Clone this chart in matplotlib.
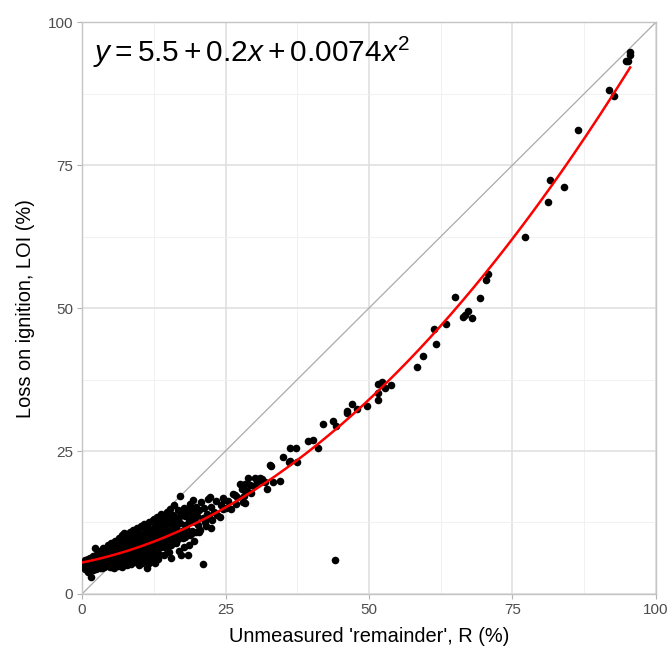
import matplotlib
matplotlib.use('Agg')
import numpy as np
import matplotlib.pyplot as plt

plt.rcParams['font.family'] = ['Liberation Sans', 'DejaVu Sans']
plt.rcParams['mathtext.fontset'] = 'custom'
plt.rcParams['mathtext.rm'] = 'Liberation Sans'
plt.rcParams['mathtext.it'] = 'Liberation Sans:italic'

# remainder R (%) and LOI (%)
R = [0.3, 0.4, 0.5, 0.6, 0.8, 0.9, 1.0, 1.1, 1.2, 1.3, 1.4, 1.5, 1.6, 1.7, 1.8, 1.9, 2.0, 2.2, 0.2, 1.0,
     2.1, 2.3, 2.4, 2.5, 2.6, 2.7, 2.8, 2.9, 3.0, 3.1, 3.2, 3.3, 3.4, 3.5, 3.6, 3.7, 3.8, 3.9, 4.0, 2.5, 3.0, 3.5, 3.9, 2.8, 3.3,
     4.1, 4.2, 4.3, 4.4, 4.5, 4.6, 4.7, 4.8, 4.9, 5.0, 5.1, 5.2, 5.3, 5.4, 5.5, 5.6, 5.7, 5.8, 5.9, 6.0, 4.4, 4.8, 5.2, 5.6, 4.0, 5.0, 5.5, 6.0,
     6.1, 6.2, 6.3, 6.4, 6.5, 6.6, 6.7, 6.8, 6.9, 7.0, 7.1, 7.2, 7.3, 7.4, 7.5, 7.6, 7.7, 7.8, 7.9, 8.0, 6.3, 6.7, 7.1, 7.5, 7.9, 6.5, 7.0, 7.4, 7.8, 6.9,
     8.1, 8.2, 8.3, 8.4, 8.5, 8.6, 8.7, 8.8, 8.9, 9.0, 9.1, 9.2, 9.3, 9.4, 9.5, 9.6, 9.7, 9.8, 9.9, 10.0, 8.3, 8.7, 9.1, 9.5, 9.9, 8.5, 8.9, 9.3, 9.7, 8.1, 9.0, 9.6,
     10.1, 10.2, 10.3, 10.4, 10.5, 10.6, 10.7, 10.8, 10.9, 11.0, 11.1, 11.2, 11.3, 11.4, 11.5, 11.6, 11.7, 11.8, 11.9, 12.0, 10.2, 10.6, 11.0, 11.4, 11.8, 10.4, 10.9, 11.3, 11.7, 12.0, 10.0, 11.6,
     12.1, 12.2, 12.3, 12.4, 12.5, 12.6, 12.7, 12.8, 12.9, 13.0, 13.1, 13.2, 13.3, 13.4, 13.5, 13.6, 13.7, 13.8, 13.9, 14.0, 12.3, 12.7, 13.1, 13.5, 13.9, 12.5, 12.9, 13.3, 13.7, 12.2,
     14.1, 14.2, 14.3, 14.4, 14.5, 14.6, 14.7, 14.8, 14.9, 15.0, 15.1, 15.2, 15.3, 15.4, 15.5, 15.6, 15.7, 15.8, 15.9, 16.0, 14.5, 15.0, 15.5, 16.0,
     16.1, 16.3, 16.4, 16.5, 16.7, 16.8, 17.0, 17.1, 17.3, 17.4, 17.5, 17.6, 17.8, 17.9, 18.0, 16.6, 17.2, 17.7, 18.0, 16.9,
     18.2, 18.3, 18.5, 18.6, 18.8, 18.9, 19.0, 19.2, 19.4, 19.5, 19.7, 19.8, 20.0, 18.7, 19.3, 19.9,
     20.2, 20.4, 20.6, 20.8, 21.0, 21.0, 21.3, 21.5, 21.7, 22.0, 22.2, 22.5, 22.7, 23.0, 23.3, 23.6, 24.0, 24.2, 24.5, 24.8, 25.0, 22.4,
     2.0, 2.6, 3.2, 3.8, 4.4, 5.0, 5.6, 6.2, 6.8, 7.4, 8.0, 8.6, 9.2, 9.8, 10.4, 11.0, 11.6, 12.2, 12.8, 13.4,
     14.0, 14.6, 15.2, 15.8, 16.4, 17.0, 17.6, 18.2, 18.8, 19.4, 1.2, 2.4, 3.6, 4.8, 6.0, 7.2, 8.4, 9.6, 10.8, 12.0,
     13.2, 14.4, 15.6, 16.8, 18.0, 19.2, 20.4, 21.6, 0.6, 0.9,
     22.3, 24.6, 26.7, 27.5, 28.4, 29.0, 31.0, 31.6, 25.5, 26.0, 26.3, 26.8, 27.0, 27.8, 28.2, 28.4, 28.8, 29.2, 29.5, 30.0, 30.5,
     31.3, 31.8, 32.2, 32.8, 32.9, 33.3, 34.5, 35.1, 36.1, 36.2, 37.4, 28.0, 30.2,
     36.2, 37.3, 39.4, 40.3, 41.2, 42.0, 43.8, 44.3, 46.1, 46.1, 47.0, 47.9, 49.6, 51.6, 52.2, 51.6, 51.6, 52.7, 53.8,
     58.4, 59.4, 61.3, 61.7, 63.5, 65.0, 66.4, 66.8, 67.3, 68.0, 69.3, 70.3, 70.7,
     77.2, 81.1, 81.5, 84.0, 86.4, 91.8, 92.6, 94.7, 95.1, 95.5, 95.4, 44.1]
LOI = [4.8, 5.6, 4.3, 5.1, 6.0, 4.6, 5.3, 3.9, 5.8, 4.4, 6.3, 3.0, 5.0, 4.7, 5.5, 6.6, 4.2, 8.1, 5.2, 6.2,
       5.0, 5.9, 4.6, 6.8, 5.3, 7.2, 4.9, 6.1, 5.6, 7.6, 4.5, 6.4, 5.2, 7.0, 5.8, 8.0, 4.8, 6.7, 5.4, 4.4, 6.9, 4.6, 7.8, 6.3, 5.0,
       6.2, 4.9, 7.4, 5.7, 8.6, 6.5, 5.1, 7.9, 6.0, 9.0, 5.5, 7.1, 4.7, 8.3, 6.4, 5.2, 7.6, 9.3, 6.8, 5.6, 7.0, 4.8, 6.0, 8.8, 7.2, 6.6, 4.6, 7.9,
       6.1, 8.5, 4.9, 7.3, 9.8, 5.8, 6.9, 8.0, 10.3, 5.3, 7.6, 6.4, 9.1, 5.0, 8.4, 7.0, 10.1, 6.0, 8.9, 5.5, 7.8, 8.9, 9.6, 6.6, 7.4, 6.3, 8.1, 10.6, 5.1, 4.8,
       7.0, 9.4, 6.2, 10.8, 8.1, 5.2, 7.6, 11.2, 9.0, 6.5, 8.4, 10.2, 5.6, 7.9, 11.5, 9.5, 6.9, 8.7, 10.6, 5.0, 8.6, 9.8, 7.2, 6.1, 7.7, 10.0, 5.8, 9.1, 10.9, 8.0, 11.0, 8.1,
       9.3, 6.8, 11.8, 8.2, 10.4, 5.7, 7.5, 12.2, 9.0, 6.3, 10.9, 8.6, 4.5, 11.6, 7.2, 9.8, 12.5, 6.0, 10.1, 8.0, 10.0, 8.8, 12.0, 9.3, 7.7, 5.4, 11.3, 8.2, 10.6, 11.4, 7.4, 5.5,
       9.6, 6.4, 12.9, 8.7, 10.8, 7.1, 5.4, 11.9, 9.2, 13.4, 7.8, 10.4, 6.2, 12.4, 9.0, 11.1, 14.0, 8.3, 10.0, 12.8, 10.2, 8.4, 11.6, 7.0, 13.2, 13.1, 6.8, 9.7, 8.8, 11.2,
       9.2, 11.6, 6.9, 13.6, 10.5, 8.0, 12.2, 14.4, 9.7, 11.0, 7.4, 13.0, 10.2, 14.8, 8.6, 12.0, 11.2, 9.4, 13.8, 10.6, 12.9, 14.0, 6.3, 12.6,
       15.6, 11.7, 9.0, 13.3, 10.4, 14.6, 17.1, 12.4, 6.8, 11.0, 13.9, 9.8, 15.0, 12.0, 10.7, 12.2, 14.2, 8.2, 13.6, 7.6,
       11.5, 14.8, 6.8, 12.7, 10.3, 15.8, 13.2, 11.0, 14.2, 9.2, 12.5, 15.2, 13.6, 8.6, 16.4, 10.8,
       12.0, 14.6, 11.2, 16.0, 5.2, 13.2, 15.1, 12.6, 14.0, 16.6, 13.4, 15.2, 12.9, 14.4, 16.2, 13.8, 13.5, 15.6, 14.8, 16.5, 15.0, 11.6,
       5.7, 6.0, 6.3, 6.5, 6.9, 7.2, 7.0, 7.6, 7.9, 8.3, 8.6, 8.8, 9.4, 9.7, 9.9, 10.3, 10.5, 11.0, 11.3, 11.7,
       11.9, 12.1, 12.6, 12.9, 13.1, 13.6, 13.9, 14.1, 14.5, 14.9, 4.9, 5.2, 5.5, 5.9, 6.1, 6.6, 6.9, 7.1, 7.4, 7.6,
       8.2, 8.5, 9.0, 9.6, 9.9, 10.6, 10.9, 11.8, 5.9, 4.2,
       17.0, 16.7, 17.3, 19.3, 19.3, 20.2, 20.2, 19.7, 16.2, 14.9, 17.4, 15.8, 17.0, 18.3, 17.2, 15.9, 18.0, 19.0, 17.6, 18.8, 19.6,
       20.1, 19.5, 18.3, 22.6, 22.4, 19.6, 19.7, 23.9, 23.1, 23.3, 23.0, 16.0, 20.2,
       25.6, 25.6, 26.7, 26.9, 25.6, 29.8, 30.2, 29.3, 32.0, 31.7, 33.2, 32.3, 32.9, 36.8, 37.0, 35.1, 33.9, 36.1, 36.5,
       39.7, 41.6, 46.4, 43.7, 47.3, 51.9, 48.5, 48.8, 49.5, 48.3, 51.8, 54.9, 55.9,
       62.4, 68.5, 72.4, 71.1, 81.1, 88.2, 87.1, 93.2, 93.2, 94.7, 94.3, 5.9]

# quadratic fit y = b0 + b1 x + b2 x^2
b0, b1, b2 = 5.5, 0.2, 0.0074

fig = plt.figure(figsize=(6.7, 6.52), dpi=100)
ax = fig.add_axes([0.1224, 0.089, 0.8567, 0.877])

ax.set_xlim(0, 100)
ax.set_ylim(0, 100)
ax.set_xticks([0, 25, 50, 75, 100])
ax.set_yticks([0, 25, 50, 75, 100])
ax.set_xticks([12.5, 37.5, 62.5, 87.5], minor=True)
ax.set_yticks([12.5, 37.5, 62.5, 87.5], minor=True)
ax.grid(which='major', color='#dedede', linewidth=1.1)
ax.grid(which='minor', color='#efefef', linewidth=0.6)
ax.set_axisbelow(True)
for s in ax.spines.values():
    s.set_color('#c4c4c4')
    s.set_linewidth(1.0)
ax.tick_params(which='major', length=3.5, width=0.8, color='#b3b3b3',
               labelcolor='#4d4d4d', labelsize=11, pad=3)
ax.tick_params(which='minor', length=0)

ax.plot([0, 100], [0, 100], color='#aaaaaa', linewidth=0.9, zorder=2)
ax.scatter(R, LOI, s=30, color='black', linewidths=0, zorder=3)
xs = np.linspace(0, max(R), 200)
ax.plot(xs, b0 + b1 * xs + b2 * xs ** 2, color='#ff0000', linewidth=1.8, zorder=4)

ax.text(0.019, 0.930, r'$y = 5.5 + 0.2x + 0.0074x^2$', transform=ax.transAxes,
        fontsize=21.5, va='baseline', ha='left')

ax.set_xlabel("Unmeasured 'remainder', R (%)", fontsize=14.4, labelpad=7)
ax.set_ylabel('Loss on ignition, LOI (%)', fontsize=14.4, labelpad=9)

fig.savefig('out.png', dpi=100)
